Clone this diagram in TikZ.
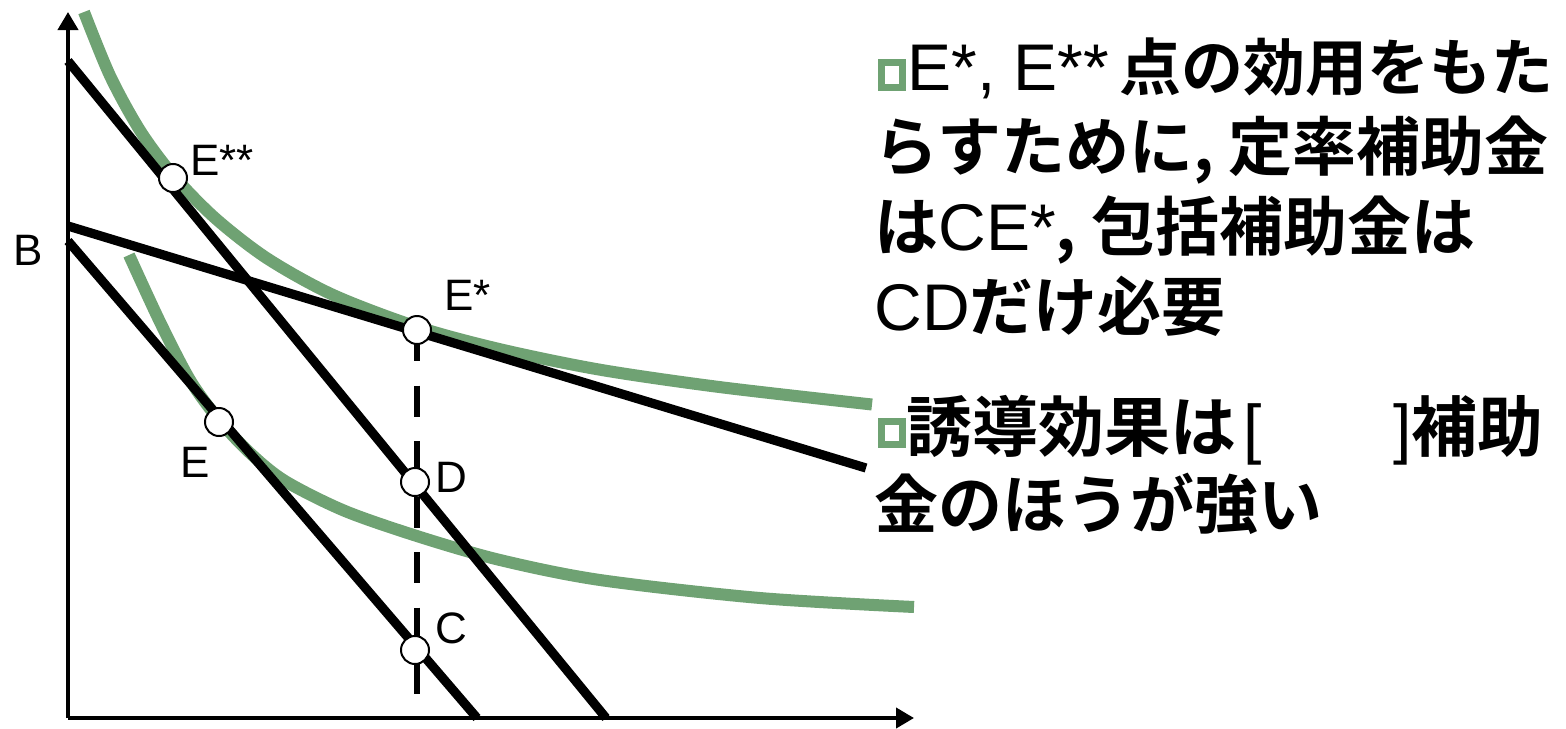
\documentclass[tikz,border=0pt]{standalone}
\usepackage{fontspec}
\setmainfont{Liberation Sans}
\newfontfamily\jp{Noto Sans CJK JP}[BoldFont={Noto Sans CJK JP Bold}]
\usetikzlibrary{arrows.meta}
\definecolor{curvegreen}{RGB}{111,162,115}
\tikzset{
  axisline/.style={line width=2pt,-{Triangle[length=9pt,width=10pt]}},
  budget/.style={line width=4.6pt},
  indiff/.style={line width=6pt,color=curvegreen},
  guide/.style={line width=3pt,dash pattern=on 15.5pt off 12.25pt},
  pointmark/.style={circle,draw=black,fill=white,line width=1pt,minimum size=14pt,inner sep=0pt},
  lbl/.style={anchor=base west,inner sep=0pt,font=\fontsize{22pt}{26pt}\selectfont},
  bodytext/.style={anchor=base west,inner sep=0pt,font=\fontsize{32pt}{36pt}\selectfont},
  bulletbox/.style={draw=curvegreen,line width=3.5pt}
}
\newcommand{\jb}[1]{{\jp\bfseries #1}}
\newcommand{\lt}[1]{{\fontsize{33pt}{36pt}\selectfont #1}}
\begin{document}
\begin{tikzpicture}[x=0.5pt,y=-0.5pt]
\useasboundingbox (0,0) rectangle (1566,728);
% axes
\coordinate (O) at (68,718);
\coordinate (Ytip) at (68,12);
\coordinate (Xtip) at (914,718);
% budget line end points
\coordinate (T1) at (68,61);
\coordinate (T2) at (606,718);
\coordinate (L1) at (68,241);
\coordinate (L2) at (477,718);
\coordinate (B1) at (68,226);
\coordinate (B2) at (866,468);
\coordinate (Gend) at (417,697);
% indifference curves
\draw[indiff] plot[smooth,tension=0.5] coordinates {(84,12) (110,75.7) (140,130.5) (173,175) (215,218) (267,258.3) (333,294.9) (417,326.8) (500,349.2) (600,369.7) (720,387.1) (872,404.5)};
\draw[indiff] plot[smooth,tension=0.5] coordinates {(129,255) (160,322) (190,380) (219,420) (250,453) (285,481) (345,511) (420,537) (500,560) (600,580) (760,598) (914,607)};
% budget lines
\draw[budget] (T1) -- (T2);
\draw[budget] (L1) -- (L2);
\draw[budget] (B1) -- (B2);
% axes
\draw[axisline] (O) -- (Ytip);
\draw[axisline] (O) -- (Xtip);
% points
\coordinate (EstarC) at (417,330);
\draw[guide] (EstarC) -- (Gend);
\node[pointmark] (Estar) at (EstarC) {};
\node[pointmark] (Ess) at (173,178) {};
\node[pointmark] (E) at (219,422) {};
\node[pointmark] (D) at (415,482) {};
\node[pointmark] (C) at (415,650) {};
% labels
\node[lbl] (lEss) at (190,175) {E**};
\node[lbl] (lB) at (13,265) {B};
\node[lbl] (lEstar) at (444,310) {E*};
\node[lbl] (lE) at (180,477) {E};
\node[lbl] (lD) at (435,492) {D};
\node[lbl] (lC) at (435,643) {C};
% text block
\draw[bulletbox] (881.5,62.5) rectangle (902,87);
\node[bodytext] (t1) at (907,90) {\lt{E*, E**}\,{\fontsize{31pt}{36pt}\selectfont\jb{点の効用をもた}}};
\node[bodytext] (t2) at (874,170) {\jb{らすために, 定率補助金}};
\node[bodytext] (t3) at (874,250) {\jb{は}\lt{CE*}\jb{, 包括補助金は}};
\node[bodytext] (t4) at (874,330) {\lt{CD}\jb{だけ必要}};
\draw[bulletbox] (881.5,421.5) rectangle (902,444);
\node[bodytext,font=\fontsize{33pt}{36pt}\selectfont] (t5) at (906,451) {\jb{誘導効果は}};
\node[bodytext] (t5a) at (1243,451) {\lt{[}};
\node[bodytext,font=\fontsize{33pt}{36pt}\selectfont] (t5b) at (1393,451) {\lt{]}\jb{補助}};
\node[bodytext] (t6) at (874,528) {\jb{金のほうが強い}};
\end{tikzpicture}
\end{document}
